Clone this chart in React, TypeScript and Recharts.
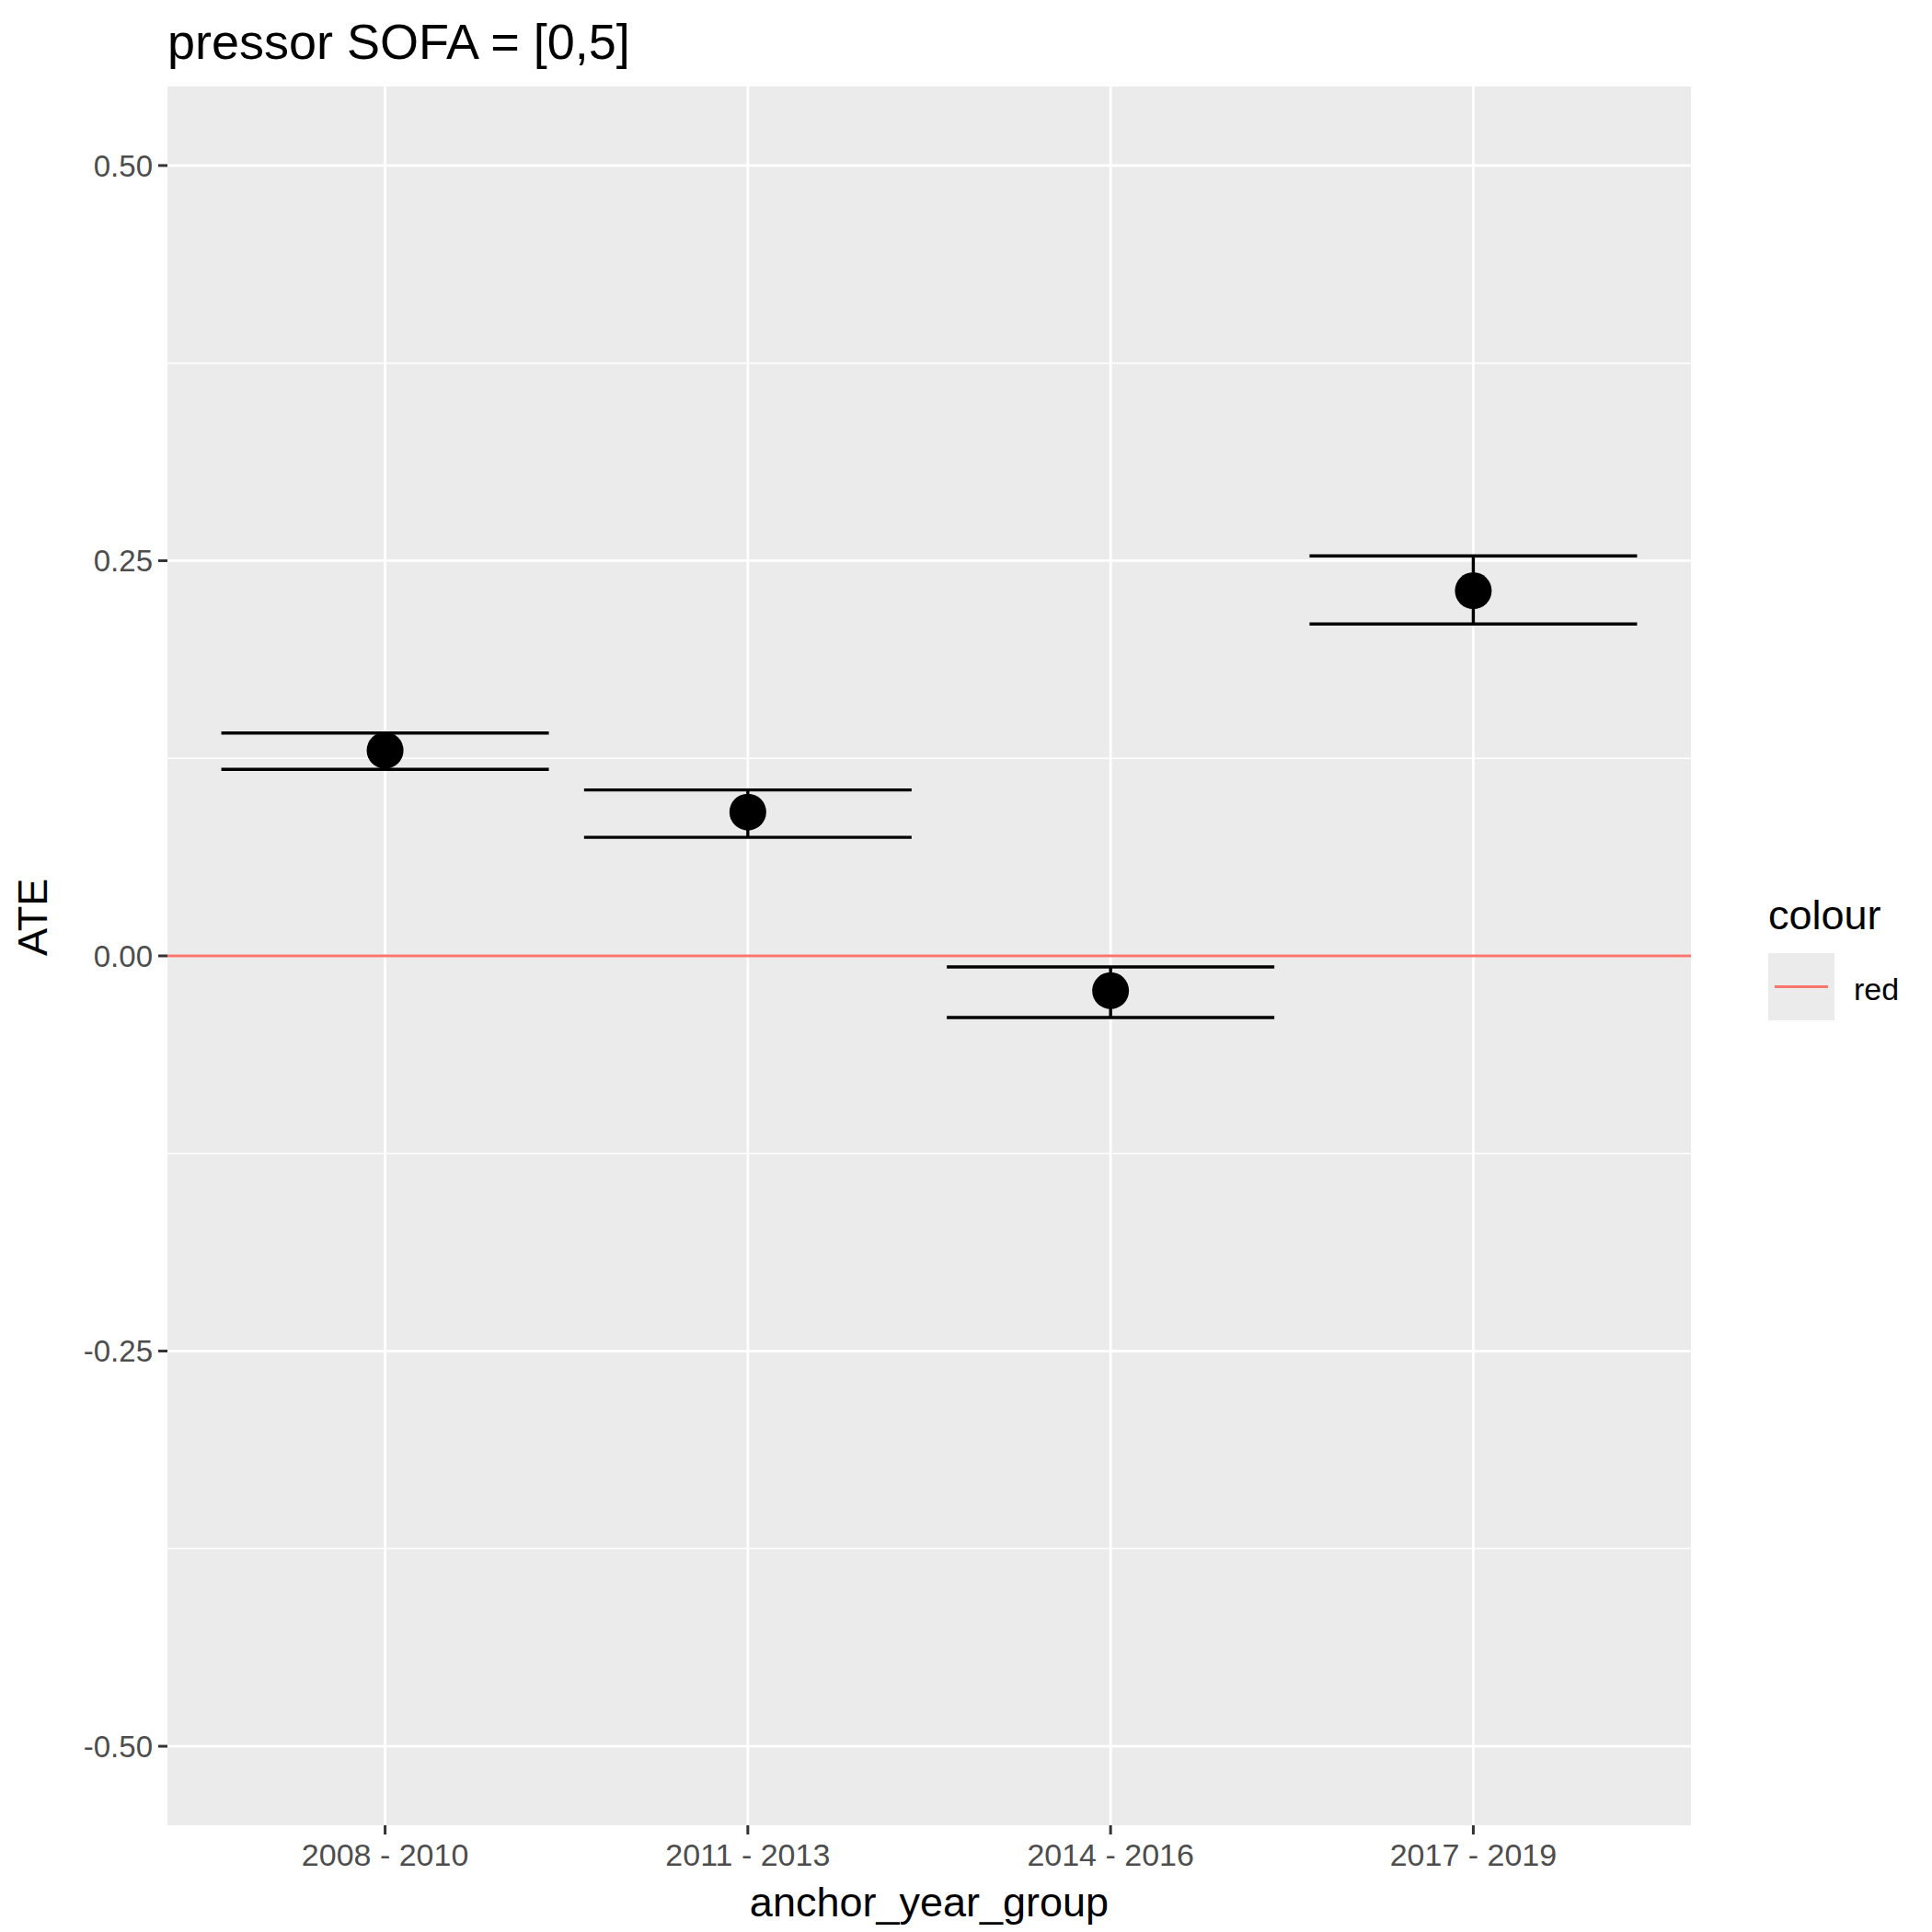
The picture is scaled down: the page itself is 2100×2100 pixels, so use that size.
import {
  ComposedChart, Scatter, ErrorBar, XAxis, YAxis, ReferenceLine, ReferenceArea,
} from 'recharts';

const categories = ['2008 - 2010', '2011 - 2013', '2014 - 2016', '2017 - 2019'];
const ateValues = [0.13, 0.091, -0.022, 0.231];
const lowerValues = [0.118, 0.075, -0.039, 0.21];
const upperValues = [0.141, 0.105, -0.007, 0.253];
const yTicks = [-0.5, -0.25, 0, 0.25, 0.5];
const minorY = [-0.375, -0.125, 0.125, 0.375];

const FONT = '"Liberation Sans", Arial, sans-serif';

const data = categories.map((c, i) => ({
  x: i + 1,
  name: c,
  ate: ateValues[i],
  err: [ateValues[i] - lowerValues[i], upperValues[i] - ateValues[i]],
}));

export default function App() {
  return (
    <div style={{ position: 'absolute', left: 0, top: 0, width: 2100, height: 2100, background: '#fff', fontFamily: FONT }}>
      <div style={{ position: 'absolute', left: 182, top: 14, fontSize: 54, lineHeight: '62px', color: '#000' }}>
        pressor SOFA = [0,5]
      </div>
      <ComposedChart
        width={2100}
        height={2100}
        data={data}
        margin={{ top: 94, right: 262, bottom: 0, left: 0 }}
      >
        <XAxis
          dataKey="x"
          type="number"
          domain={[0.4, 4.6]}
          ticks={[1, 2, 3, 4]}
          tickFormatter={(v: number) => categories[v - 1]}
          tick={{ fill: '#4d4d4d', fontSize: 34, fontFamily: FONT }}
          tickLine={{ stroke: '#333', strokeWidth: 3 }}
          tickSize={10}
          tickMargin={10}
          axisLine={false}
          height={116}
          label={{ value: 'anchor_year_group', position: 'insideTop', dy: 62, fill: '#000', fontSize: 45, fontFamily: FONT }}
        />
        <YAxis
          type="number"
          domain={[-0.55, 0.55]}
          ticks={yTicks}
          tickFormatter={(v: number) => v.toFixed(2)}
          tick={{ fill: '#4d4d4d', fontSize: 33, fontFamily: FONT }}
          tickLine={{ stroke: '#333', strokeWidth: 3 }}
          tickSize={10}
          tickMargin={6}
          axisLine={false}
          width={182}
          label={{ value: 'ATE', angle: -90, position: 'insideLeft', dx: 30, fill: '#000', fontSize: 45, fontFamily: FONT }}
        />
        <ReferenceArea x1={0.4} x2={4.6} y1={-0.55} y2={0.55} fill="#EBEBEB" fillOpacity={1} stroke="none" />
        {minorY.map((v) => (
          <ReferenceLine key={'m' + v} y={v} stroke="#fff" strokeWidth={1.4} />
        ))}
        {yTicks.map((v) => (
          <ReferenceLine key={'y' + v} y={v} stroke="#fff" strokeWidth={2.8} />
        ))}
        {[1, 2, 3, 4].map((v) => (
          <ReferenceLine key={'x' + v} x={v} stroke="#fff" strokeWidth={2.8} />
        ))}
        <ReferenceLine y={0} stroke="#F8766D" strokeWidth={3} />
        <Scatter
          dataKey="ate"
          fill="#000"
          isAnimationActive={false}
          shape={(p: any) => <circle cx={p.cx} cy={p.cy} r={20} fill="#000" />}
        >
          <ErrorBar dataKey="err" direction="y" width={178} stroke="#000" strokeWidth={3.4} />
        </Scatter>
      </ComposedChart>
      <div style={{ position: 'absolute', left: 1922, top: 968, fontSize: 45, lineHeight: '54px', color: '#000' }}>colour</div>
      <div style={{ position: 'absolute', left: 1922, top: 1036, width: 72, height: 73, background: '#EBEBEB' }}>
        <div style={{ position: 'absolute', left: 7, right: 7, top: 35, height: 3, background: '#F8766D' }} />
      </div>
      <div style={{ position: 'absolute', left: 2015, top: 1055, fontSize: 34, lineHeight: '40px', color: '#000' }}>red</div>
    </div>
  );
}
